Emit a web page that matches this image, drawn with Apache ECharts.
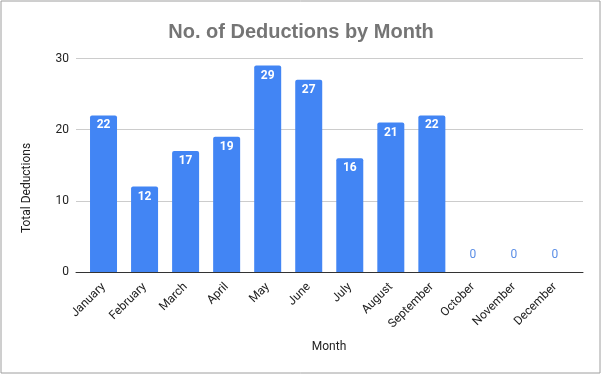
<!DOCTYPE html>
<html><head><meta charset="utf-8">
<script src="https://cdn.jsdelivr.net/npm/echarts@6/dist/echarts.min.js"></script>
<style>html,body{margin:0;padding:0;background:#fff}#c{width:602px;height:375px}</style>
</head><body><div id="c"></div>
<script>
const categories = ['January','February','March','April','May','June','July','August','September','October','November','December'];
const deductions = [22,12,17,19,29,27,16,21,22,0,0,0];
const yTicks = [0,10,20,30];

const chart = echarts.init(document.getElementById('c'));
const yMin = yTicks[0], yMax = yTicks[yTicks.length-1];
chart.setOption({
  animation:false,
  backgroundColor:'#fff',
  title:{text:'No. of Deductions by Month',left:'center',top:17,
    textStyle:{fontFamily:'Liberation Sans, Arial',fontSize:20,fontWeight:'bold',color:'#757575'}},
  graphic:[
    {type:'rect',shape:{x:1,y:1,width:599,height:372},style:{fill:'none',stroke:'#9e9e9e',lineWidth:1},silent:true},
    {type:'text',x:27,y:188,rotation:Math.PI/2,style:{text:'Total Deductions',fontFamily:'Roboto',fontSize:12,fill:'#222',align:'center',verticalAlign:'middle'}},
    {type:'text',x:329,y:347,style:{text:'Month',fontFamily:'Roboto',fontSize:12,fill:'#222',align:'center',verticalAlign:'middle'}}
  ],
  grid:[
    {left:76,right:19,top:58.5,bottom:103,containLabel:false},
    {left:83,right:26.5,top:58.5,bottom:103,containLabel:false}
  ],
  xAxis:[
    {type:'value',gridIndex:0,min:0,max:1,axisLabel:{show:false},axisTick:{show:false},splitLine:{show:false},
      axisLine:{show:true,onZero:false,lineStyle:{color:'#333',width:1}},z:5},
    {type:'category',gridIndex:1,data:categories,
      axisLine:{show:false},axisTick:{show:false},
      axisLabel:{rotate:45,margin:13,fontFamily:'Roboto',fontSize:12,color:'#222',interval:0}}
  ],
  yAxis:[
    {type:'value',gridIndex:0,min:yMin,max:yMax,interval:10,
      axisLine:{show:false},axisTick:{show:false},
      splitLine:{lineStyle:{color:'#cccccc'}},
      axisLabel:{fontFamily:'Roboto',fontSize:12,color:'#222',margin:7}},
    {type:'value',gridIndex:1,min:yMin,max:yMax,interval:10,show:false,splitLine:{show:false}}
  ],
  series:[{type:'bar',xAxisIndex:1,yAxisIndex:1,barWidth:27,z:3,
    itemStyle:{color:'#4285f4',borderRadius:[2,2,0,0]},
    data:deductions.map(v=>v===0?{value:v,label:{position:'top',distance:11,color:'#5b8ee6',fontWeight:'normal'}}:v),
    label:{show:true,position:'insideTop',distance:4,color:'#fff',fontFamily:'Roboto',fontSize:12,fontWeight:'bold'}
  }]
});
</script></body></html>
